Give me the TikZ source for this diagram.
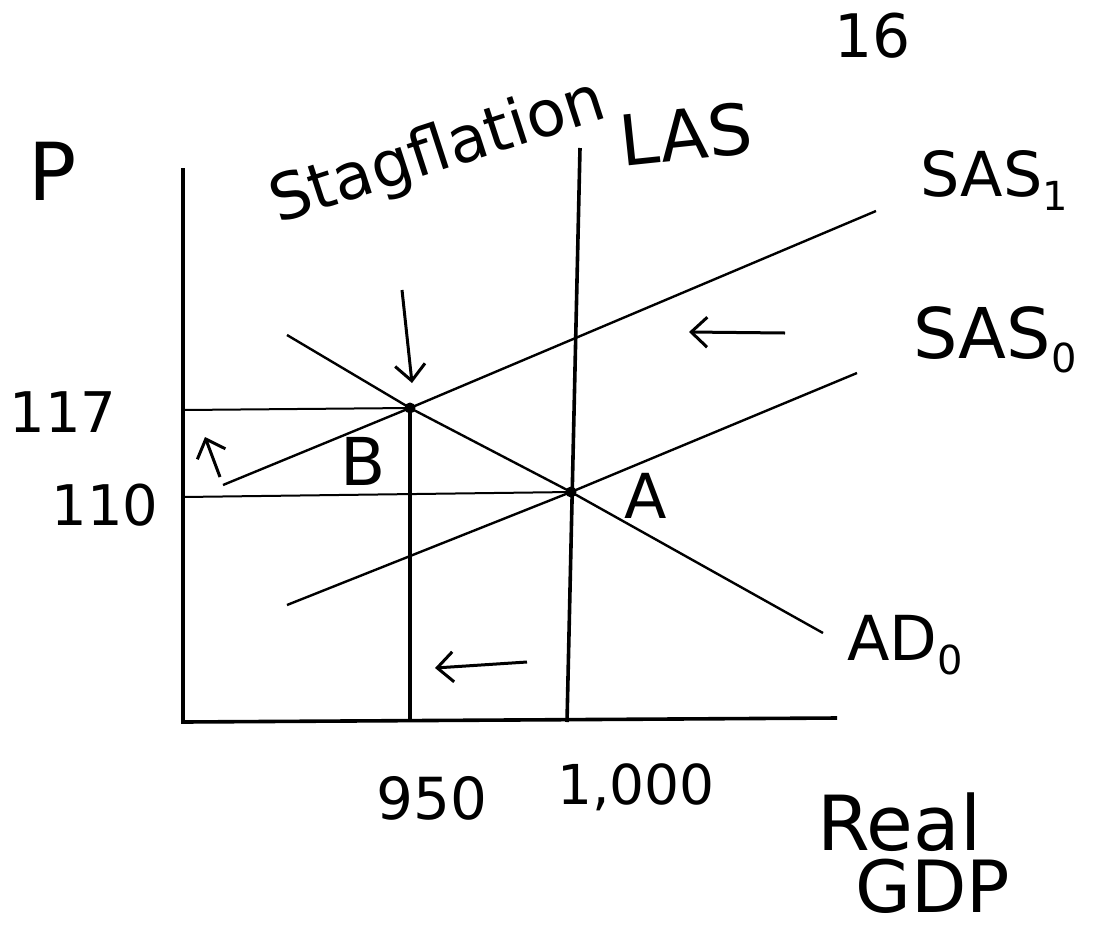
\documentclass[tikz,border=0pt]{standalone}
\usepackage{fontspec}
\setmainfont{DejaVu Sans}
\usetikzlibrary{arrows.meta}
\newcommand{\lowsub}[1]{\raisebox{-14pt}{\fontsize{40}{40}\selectfont #1}}
\begin{document}
\begin{tikzpicture}[x=1pt, y=-1pt,
    axis/.style={line width=3.6pt},
    curve/.style={line width=2.4pt},
    guide/.style={line width=2pt},
    shiftarrow/.style={line width=3pt, -{Straight Barb[length=16pt, width=30pt, line width=3pt]}},
    dot/.style={circle, fill=black, inner sep=0pt, minimum size=11pt},
    lbl/.style={inner sep=0pt, font=\fontsize{#1}{#1}\selectfont},
    lbl/.default=56
]
    \useasboundingbox (0,0) rectangle (1102,932);
    % axes
    \coordinate (O) at (183,722);
    \coordinate (ytop) at (183,168);
    \coordinate (xend) at (837,718);
    \draw[axis] (ytop) -- (O) -- (xend);
    \node[lbl=80] (plbl) at (53,171) {P};
    \node[lbl=76, anchor=base west] (real) at (817,850) {Real};
    \node[lbl=72, anchor=base west] (gdp) at (855,912) {GDP};
    \node[lbl=60] (page) at (873,36) {16};
    % equilibria
    \node[dot] (ptB) at (410,408) {};
    \node[dot] (ptA) at (571,492) {};
    \node[lbl=66] (lblB) at (363,461) {B};
    \node[lbl=62] (lblA) at (646,496) {A};
    % long run supply
    \coordinate (lastop) at (580,148);
    \coordinate (lasbot) at (567,722);
    \draw[axis] (lastop) -- (lasbot);
    \node[lbl=70, rotate=6] (laslbl) at (686,134) {LAS};
    \node[lbl=64, rotate=18, anchor=base west] (stag) at (278,224) {Stagflation};
    % short run supply and demand
    \coordinate (sas1l) at (223,485);
    \coordinate (sas1r) at (876,211);
    \coordinate (sas0l) at (287,605);
    \coordinate (sas0r) at (857,373);
    \coordinate (adl) at (287,335);
    \coordinate (adr) at (823,633);
    \draw[curve] (sas1l) -- (ptB.center) -- (sas1r);
    \draw[curve] (sas0l) -- (ptA.center) -- (sas0r);
    \draw[curve] (adl) -- (ptB.center) -- (ptA.center) -- (adr);
    \node[lbl=62, anchor=base west] (sas1lbl) at (920,196) {SAS\lowsub{1}};
    \node[lbl=70, anchor=base west] (sas0lbl) at (913,358) {SAS\lowsub{0}};
    \node[lbl=62, anchor=base west] (adlbl) at (847,660) {AD\lowsub{0}};
    % guide lines
    \coordinate (p117) at (183,410);
    \coordinate (p110) at (183,497);
    \coordinate (q950) at (410,722);
    \draw[guide] (p117) -- (ptB.center);
    \draw[guide] (p110) -- (ptA.center);
    \draw[axis] (ptB.center) -- (q950);
    \node[lbl] (l117) at (63,412) {117};
    \node[lbl] (l110) at (105,505) {110};
    \node[lbl=58] (l950) at (432,798) {950};
    \node[lbl=55] (l1000) at (636,787) {1,000};
    % shifts
    \foreach \nm/\xa/\ya/\xb/\yb in {dn/402/290/412/383, up/220/477/205/437,
                                     sl/785/333/689/332, ql/527/662/435/668} {
        \coordinate (\nm-s) at (\xa,\ya);
        \coordinate (\nm-e) at (\xb,\yb);
        \draw[shiftarrow] (\nm-s) -- (\nm-e);
    }
\end{tikzpicture}
\end{document}
